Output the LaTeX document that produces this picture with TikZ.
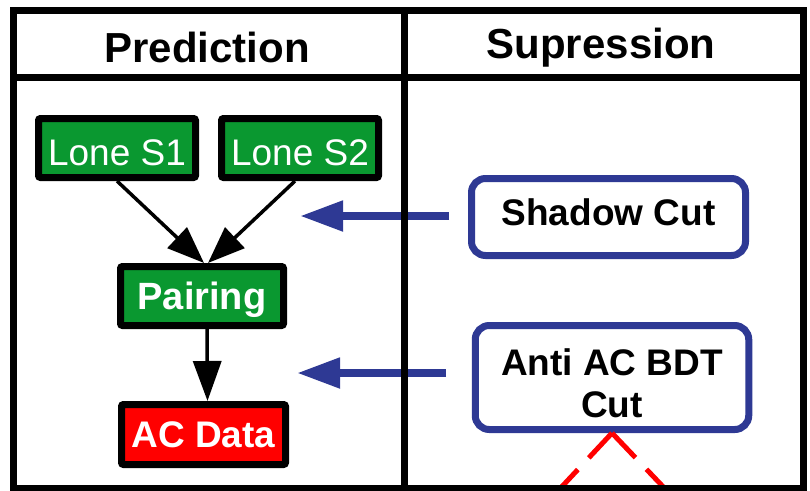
\documentclass[tikz,border=0pt]{standalone}
\usepackage{fontspec}
\setmainfont{Liberation Sans}
\usetikzlibrary{arrows.meta}
\definecolor{boxgreen}{RGB}{10,152,48}
\definecolor{cutblue}{RGB}{46,57,148}
\begin{document}
\begin{tikzpicture}[x=1pt,y=-1pt,
  procbox/.style={draw=black, line width=7pt, rounded corners=2pt, inner sep=0pt, text=white,
    minimum width=157pt, minimum height=59pt, text height=26.5pt, text depth=0pt},
  flow/.style={line width=3.5pt, -{Triangle[length=37pt,width=28pt]}},
  cutbox/.style={draw=cutblue, line width=7pt, rounded corners=14pt, fill=white, inner sep=0pt,
    font=\bfseries\fontsize{37}{42}\selectfont, align=center},
  cutarrow/.style={draw=cutblue, line width=8pt, -{Triangle[length=43pt,width=29pt]}},
  headtext/.style={font=\bfseries\fontsize{42}{50}\selectfont, anchor=base, inner sep=0pt},
  reddash/.style={draw=red, line width=5pt, dash pattern=on 34pt off 16pt}
]
\useasboundingbox (0,0) rectangle (810,490);

% header texts
\node[headtext] (predhead) at (207,62) {Prediction};
\node[headtext] (suphead) at (601,58) {Supression};

% prediction nodes
\node[procbox, fill=boxgreen, text height=34.5pt, font=\fontsize{37}{44}\selectfont] (s1) at (117,148) {Lone S1};
\node[procbox, fill=boxgreen, text height=34.5pt, font=\fontsize{37}{44}\selectfont] (s2) at (300,148) {Lone S2};
\node[procbox, fill=boxgreen, minimum width=163pt, font=\bfseries\fontsize{38}{44}\selectfont] (pair) at (202,296) {Pairing};
\node[procbox, fill=red, minimum width=164pt, minimum height=60pt, font=\bfseries\fontsize{37}{44}\selectfont] (ac) at (203.5,434.5) {AC Data};

\draw[flow] (s1.south) -- ([xshift=2pt]pair.north);
\draw[flow] ([xshift=-5pt]s2.south) -- ([xshift=6pt]pair.north);
\draw[line width=3.5pt, -{Triangle[length=40pt,width=28pt]}] ([xshift=5pt]pair.south) -- ([xshift=4pt]ac.north);

% suppression nodes
\node[cutbox, minimum width=274pt, minimum height=77pt, text height=26.5pt, text depth=9pt] (shadow) at (608.5,217) {Shadow Cut};
\node[cutbox, minimum width=273.5pt, minimum height=104pt] (anti) at (612,377.5) {\rule{0pt}{37.5pt}Anti AC BDT\\Cut};

\coordinate (tipA) at (300,216);
\coordinate (tipB) at (297,373);
\coordinate (startA) at (449,216);
\coordinate (startB) at (446,373);
\draw[cutarrow] (startA) -- (tipA);
\draw[cutarrow] (startB) -- (tipB);

\coordinate (redL) at (555,494);
\coordinate (redR) at (670,494);
\draw[reddash] (anti.south) -- (redL);
\draw[reddash] (anti.south) -- (redR);

% frame
\draw[line width=7pt] (13.5,10.5) rectangle (803,488);
\draw[line width=7pt] (13.5,77.5) -- (803,77.5);
\draw[line width=7pt] (404,10.5) -- (404,488);
\end{tikzpicture}
\end{document}
